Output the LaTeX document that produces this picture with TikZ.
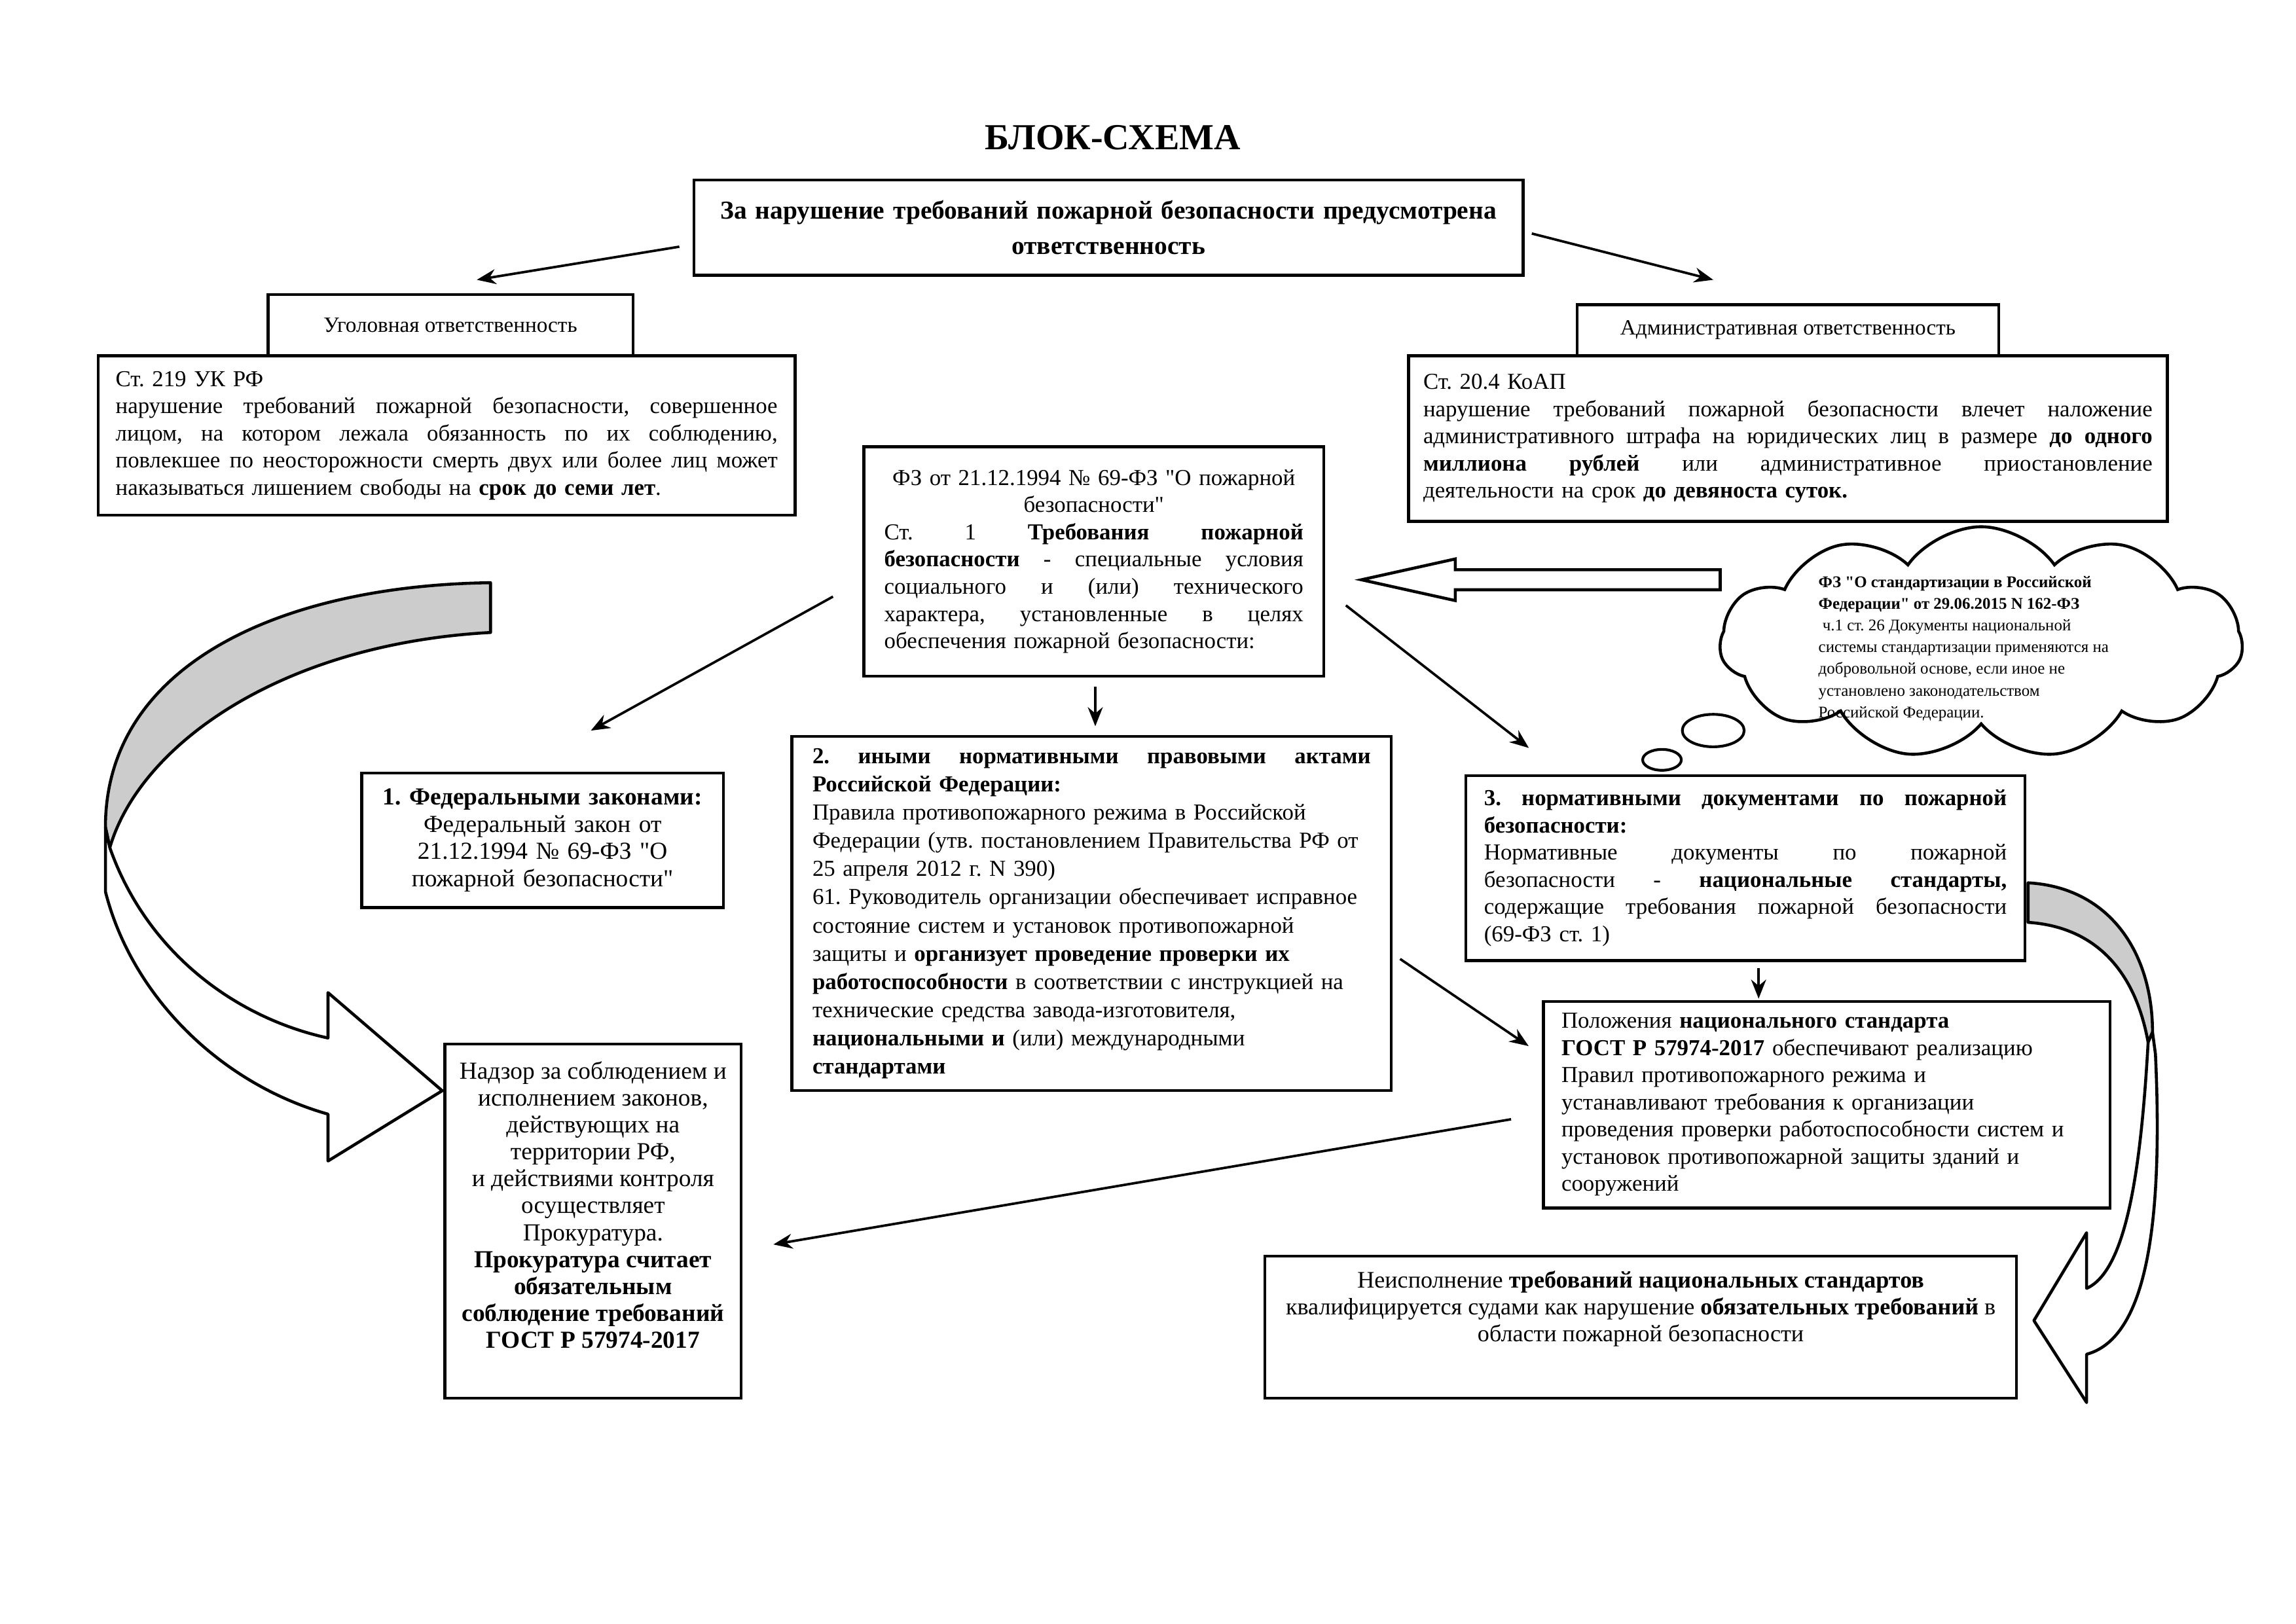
\documentclass[tikz,border=0pt]{standalone}
\usepackage{fontspec}
\setmainfont{Liberation Serif}
\newfontfamily\qfont{Liberation Serif}
\usepackage{tikz}
\usetikzlibrary{calc,positioning,shapes,shapes.arrows,shapes.symbols,arrows.meta}
\setlength{\parindent}{0pt}
\frenchspacing
% straight double quote, justified / centred line of the box width
\newcommand{\q}{{\qfont\symbol{34}}}
\newcommand{\jlw}{\hsize}
\newcommand{\jl}[1]{\makebox[\jlw][s]{\spaceskip=0pt\xspaceskip=0pt #1}}
\newcommand{\cl}[1]{\makebox[\jlw][c]{#1}}

\tikzset{
  box/.style={draw, line width=1.1pt, inner sep=0pt, font=\fontsize{8.4}{10}\selectfont},
  tw/.style={text width=#1, execute at begin node={\def\jlw{#1}}},
  conn/.style={line width=0.9pt, -{Stealth[length=7pt,width=5.5pt]}},
  ribbon/.style={draw, line width=1.1pt, line join=round},
}

\begin{document}
\begin{tikzpicture}[x=0.018938cm, y=-0.018938cm]
		\useasboundingbox (0,0) rectangle (1568,1109);

		\node(title) at (760,94) {\fontsize{13.5}{16}\selectfont\bfseries БЛОК-СХЕМА};
		\node(resp) [box,minimum width=10.72cm,minimum height=1.23cm,text width=10.4cm,align=center,font=\fontsize{9.5}{13}\selectfont\bfseries] at (757,155.5)
			{За нарушение требований пожарной безопасности предусмотрена\\ответственность};

		% criminal liability
		\node(crimtxt) [box,minimum width=9.01cm,minimum height=2.06cm,tw=8.56cm,align=left] at (305,297.5)
			{Ст. 219 УК РФ\\
			 \jl{нарушение требований пожарной безопасности, совершенное}\\
			 \jl{лицом, на котором лежала обязанность по их соблюдению,}\\
			 \jl{повлекшее по неосторожности смерть двух или более лиц может}\\
			 наказываться лишением свободы на \textbf{срок до семи лет}.};
		\node(crim) [box,above=-1.1pt of crimtxt,minimum width=4.72cm,minimum height=0.795cm,xshift=0.05cm,font=\fontsize{8}{10}\selectfont] {Уголовная ответственность};

		% administrative liability
		\node(admtxt) [box,minimum width=9.81cm,minimum height=2.14cm,tw=9.43cm,align=left] at (1221,299.5)
			{Ст. 20.4 КоАП\\
			 \jl{нарушение требований пожарной безопасности влечет наложение}\\
			 \jl{административного штрафа на юридических лиц в размере \textbf{до одного}}\\
			 \jl{\textbf{миллиона рублей} или административное приостановление}\\
			 деятельности на срок \textbf{до девяноста суток.}};
		\node(adm) [box,above=-1.1pt of admtxt,minimum width=5.45cm,minimum height=0.66cm,font=\fontsize{8}{10}\selectfont] {Административная ответственность};

		% 69-FZ
		\node(fz69) [box,minimum width=5.95cm,minimum height=2.97cm,tw=5.42cm,align=left] at (747,383.5)
			{\cl{ФЗ от 21.12.1994 № 69-ФЗ \q О пожарной}\\
			 \cl{безопасности\q}\\
			 \jl{Ст. 1 \textbf{Требования пожарной}}\\
			 \jl{\textbf{безопасности} - специальные условия}\\
			 \jl{социального и (или) технического}\\
			 \jl{характера, установленные в целях}\\
			 обеспечения пожарной безопасности:};

		% cloud
		\node(cloud) [cloud,draw,line width=1.1pt,cloud puffs=11,cloud puff arc=110,aspect=2.25,minimum width=6.76cm,minimum height=3.0cm,inner sep=0pt] at (1353,439) {};
		\node(cloudtxt) [align=left,inner sep=0pt,font=\fontsize{6}{8}\selectfont] at (1341,443)
			{\textbf{ФЗ \q О стандартизации в Российской}\\
			 \textbf{Федерации\q\ от 29.06.2015 N 162-ФЗ}\\
			 \ ч.1 ст. 26 Документы национальной\\
			 системы стандартизации применяются на\\
			 добровольной основе, если иное не\\
			 установлено законодательством\\
			 Российской Федерации.};
		\node(bubA) [ellipse,draw,line width=1pt,minimum width=0.5cm,minimum height=0.27cm,inner sep=0pt] at (1135,519) {};
		\node(bubB) [ellipse,draw,line width=1pt,minimum width=0.8cm,minimum height=0.42cm,inner sep=0pt] at (1170,499) {};
		\node(hollow) [single arrow,draw,line width=1.1pt,shape border rotate=180,minimum height=4.64cm,inner sep=0.11cm,single arrow head extend=0.14cm,single arrow tip angle=25,anchor=tip] at (925,396) {};

		% three kinds of acts
		\node(fedlaw) [box,minimum width=4.68cm,minimum height=1.74cm,text width=4.4cm,align=center,font=\fontsize{9}{10}\selectfont] at (370.5,574)
			{\textbf{1. Федеральными законами:}\\ Федеральный закон от\\ 21.12.1994 № 69-ФЗ \q О\\ пожарной безопасности\q};
		\node(acts) [box,minimum width=7.75cm,minimum height=4.58cm,tw=7.22cm,align=left,font=\fontsize{8.4}{10.4}\selectfont] at (745.5,624)
			{\jl{\textbf{2. иными нормативными правовыми актами}}\\
			 \textbf{Российской Федерации:}\\
			 Правила противопожарного режима в Российской\\
			 Федерации (утв. постановлением Правительства РФ от\\
			 25 апреля 2012 г. N 390)\\
			 61. Руководитель организации обеспечивает исправное\\
			 состояние систем и установок противопожарной\\
			 защиты и \textbf{организует проведение проверки их}\\
			 \textbf{работоспособности} в соответствии с инструкцией на\\
			 технические средства завода-изготовителя,\\
			 \textbf{национальными и} (или) международными\\
			 \textbf{стандартами}};
		\node(normdoc) [box,minimum width=7.23cm,minimum height=2.39cm,tw=6.76cm,align=left] at (1192,593)
			{\jl{\textbf{3. нормативными документами по пожарной}}\\
			 \textbf{безопасности:}\\
			 \jl{Нормативные документы по пожарной}\\
			 \jl{безопасности - \textbf{национальные стандарты,}}\\
			 \jl{содержащие требования пожарной безопасности}\\
			 (69-ФЗ ст. 1)};
		\node(gost) [box,minimum width=7.33cm,minimum height=2.67cm,text width=6.86cm,align=left] at (1247.5,754.5)
			{Положения \textbf{национального стандарта}\\
			 \textbf{ГОСТ Р 57974-2017} обеспечивают реализацию\\
			 Правил противопожарного режима и\\
			 устанавливают требования к организации\\
			 проведения проверки работоспособности систем и\\
			 установок противопожарной защиты зданий и\\
			 сооружений};

		% prosecutor and courts
		\node(nadzor) [box,minimum width=3.83cm,minimum height=4.58cm] at (405,834) {};
		\node(nadzortxt) [align=center,font=\fontsize{9}{9.9}\selectfont] at (405,823)
			{Надзор за соблюдением и\\ исполнением законов,\\ действующих на\\ территории РФ,\\ и действиями контроля\\ осуществляет\\ Прокуратура.\\
			 \textbf{Прокуратура считает}\\ \textbf{обязательным}\\ \textbf{соблюдение требований}\\ \textbf{ГОСТ Р 57974-2017}};
		\node(court) [box,minimum width=9.72cm,minimum height=1.84cm] at (1120.5,906.5) {};
		\node(courttxt) [align=center,font=\fontsize{8.7}{9.8}\selectfont] at (1120.5,894)
			{Неисполнение \textbf{требований национальных стандартов}\\
			 квалифицируется судами как нарушение \textbf{обязательных требований} в\\
			 области пожарной безопасности};

		% connectors
		\draw[conn] ($(resp.west)+(-9,13)$) -- ($(crim.north)+(18,-9)$);
		\draw[conn] ($(resp.east)+(5,4)$) -- ($(adm.north)+(-51,-16)$);
		\draw[conn] ($(fz69.west)+(-20,24)$) -- ($(fedlaw.north)+(33,-28)$);
		\draw[conn] ($(fz69.south)+(1,6)$) -- ($(fz69.south |- acts.north)+(1,-6)$);
		\draw[conn] ($(fz69.east)+(14,30)$) -- ($(normdoc.north west)+(44,-18)$);
		\draw[conn] ($(normdoc.south)+(9,4)$) -- ($(normdoc.south)+(9,25)$);
		\draw[conn] ($(acts.east)+(5,31)$) -- ($(gost.west)+(-9,-40)$);
		\draw[conn] ($(gost.west)+(-21,10)$) -- ($(nadzor.east)+(21,16)$);

		% curved ribbon arrows
		\draw[ribbon,fill=gray!40] (335,398) .. controls (190,400) and (72,455) .. (72,565) -- (75,579) .. controls (95,510) and (190,440) .. (335,432) -- cycle;
		\draw[ribbon,fill=white] (75,579) .. controls (100,650) and (160,695) .. (224,709) -- (224,678) -- (302,745) -- (224,793) -- (224,761) .. controls (150,740) and (90,680) .. (72,609) -- (72,565) -- cycle;
		\draw[ribbon,fill=gray!40] (1385,603) .. controls (1440,606) and (1470,650) .. (1470,705) -- (1467,712) .. controls (1458,662) and (1430,633) .. (1385,630) -- cycle;
		\draw[ribbon,fill=white] (1467,712) .. controls (1462,800) and (1452,868) .. (1425,880) -- (1425,842) -- (1389,902) -- (1425,958) -- (1425,925) .. controls (1462,915) and (1478,850) .. (1472,720) -- (1470,705) -- cycle;
	\end{tikzpicture}
\end{document}
